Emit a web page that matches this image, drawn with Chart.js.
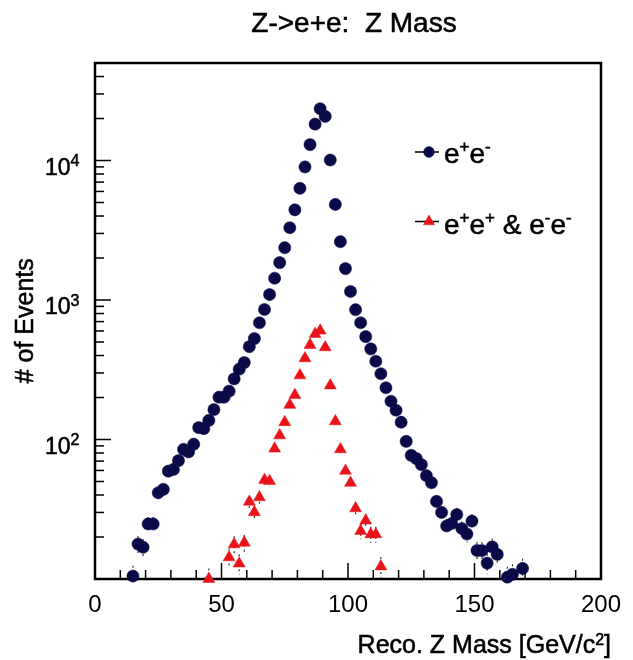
<!DOCTYPE html>
<html>
<head>
<meta charset="utf-8">
<script src="https://cdn.jsdelivr.net/npm/chart.js@4/dist/chart.umd.min.js"></script>
<style>
html,body{margin:0;padding:0;background:#ffffff;}
#wrap{width:633px;height:660px;position:relative;}
canvas{display:block;}
</style>
</head>
<body>
<div id="wrap"><canvas id="c" width="633" height="660"></canvas></div>
<script>
// ---- Data (bin centres in GeV/c^2, event counts) ----
const eeMass = [15,17,19,21,23,25,27,29,31,33,35,37,39,41,43,45,47,49,51,53,55,57,59,61,63,65,67,69,71,73,75,77,79,81,83,85,87,89,91,93,95,97,99,101,103,105,107,109,111,113,115,117,119,121,123,125,127,129,131,133,135,137,139,141,143,145,147,149,151,153,155,157,159,163,165,169];
const eeCounts = [10.5,17.8,16.9,24.8,24.8,41.5,43.9,59.3,61,70.6,85,81.5,92.5,121.6,119.6,137,163.7,201,201,222,272,319,356,463,529,687,855,1094,1432,1854,2371,3296,4430,6322,8990,12990,18230,23500,20700,10080,4840,2618,1679,1151,852,687,546,446,364,296,235,188,162,133,97,77,73,66,55,49,36,30,24,25,29,23,21,26,16,16,13,17,15,10.3,10.8,11.9];

const ssMass = [45,53,55,57,59,61,63,65,67,69,71,73,75,77,79,81,83,85,87,89,91,93,95,97,99,101,103,105,107,109,111,113];
const ssCounts = [10,14.3,17.7,12.9,18.2,35.8,30.1,38.5,51.2,50.3,86,107,133,177,208,288,382,476,570,603,458,244,135,85,59.6,48.9,32.1,22.1,26.2,20.9,20.9,12.3];

const seriesNames = ['e+e-', 'e+e+ & e-e-'];
const xTickValues = [0, 50, 100, 150, 200];
const yTickValues = [100, 1000, 10000];
const yTickExponents = ['2', '3', '4'];
const titleText = 'Z->e+e:  Z Mass';
const xTitleMain = 'Reco. Z Mass [GeV/c';
const xTitleSup = '2';
const xTitleEnd = ']';
const yTitleText = '# of Events';

// ---- Styles ----
const FONT = '"Liberation Sans", Arial, Helvetica, sans-serif';
const NAVY = '#0a0a48';
const RED = '#e8141a';
const TEXT_STROKE = 0.55;

function txt(ctx, s, x, y) {
  ctx.fillText(s, x, y);
  ctx.strokeText(s, x, y);
}
function richWidth(ctx, segs, size, supSize) {
  let w = 0;
  for (const s of segs) {
    ctx.font = (s.sup ? supSize : size) + 'px ' + FONT;
    w += ctx.measureText(s.t).width;
  }
  return w;
}
function drawRich(ctx, segs, x, y, size, supSize, supRaise) {
  let cx = x;
  ctx.textAlign = 'left';
  ctx.textBaseline = 'alphabetic';
  for (const s of segs) {
    ctx.font = (s.sup ? supSize : size) + 'px ' + FONT;
    txt(ctx, s.t, cx, s.sup ? y - supRaise : y);
    cx += ctx.measureText(s.t).width;
  }
}

const legendSegs = [
  [{t:'e'},{t:'+',sup:true},{t:'e'},{t:'-',sup:true}],
  [{t:'e'},{t:'+',sup:true},{t:'e'},{t:'+',sup:true},{t:' & '},{t:'e'},{t:'-',sup:true},{t:'e'},{t:'-',sup:true}]
];

const rootStyle = {
  id: 'rootStyle',
  beforeDatasetsDraw(chart) {
    const ctx = chart.ctx, a = chart.chartArea;
    const xs = chart.scales.x, ys = chart.scales.y;
    ctx.save();
    // statistical error bars drawn under the markers
    ctx.beginPath();
    ctx.rect(a.left, a.top, a.right - a.left, a.bottom - a.top);
    ctx.clip();
    ctx.strokeStyle = '#222';
    ctx.lineWidth = 1.1;
    ctx.setLineDash([2, 3]);
    const sets = [[eeMass, eeCounts], [ssMass, ssCounts]];
    for (const [ms, cs] of sets) {
      for (let i = 0; i < ms.length; i++) {
        const e = Math.sqrt(cs[i]) * 0.6;
        const px = xs.getPixelForValue(ms[i]);
        const p1 = ys.getPixelForValue(cs[i] + e);
        const p2 = ys.getPixelForValue(Math.max(cs[i] - e, 1));
        ctx.beginPath();
        ctx.moveTo(px, p1);
        ctx.lineTo(px, p2);
        ctx.stroke();
      }
    }
    ctx.restore();

    ctx.save();
    ctx.strokeStyle = '#000';
    ctx.lineWidth = 1.5;
    // inward x ticks
    for (let v = xs.min; v <= xs.max; v += 10) {
      const px = xs.getPixelForValue(v);
      const len = (v % 50 === 0) ? 16 : 9;
      ctx.beginPath();
      ctx.moveTo(px, a.bottom);
      ctx.lineTo(px, a.bottom - len);
      ctx.stroke();
    }
    // inward y ticks (log)
    for (let p = 1; p <= 4; p++) {
      for (let k = 1; k <= 9; k++) {
        const v = k * Math.pow(10, p);
        if (v < ys.min || v > ys.max) continue;
        const py = ys.getPixelForValue(v);
        const len = (k === 1) ? 16 : 9;
        ctx.beginPath();
        ctx.moveTo(a.left, py);
        ctx.lineTo(a.left + len, py);
        ctx.stroke();
      }
    }
    // frame
    ctx.lineWidth = 2.5;
    ctx.strokeRect(a.left, a.top, a.right - a.left, a.bottom - a.top);
    ctx.restore();
  },
  afterDraw(chart) {
    const ctx = chart.ctx, a = chart.chartArea;
    const ys = chart.scales.y;
    ctx.save();
    ctx.fillStyle = '#000';
    ctx.strokeStyle = '#000';
    ctx.lineWidth = TEXT_STROKE;
    // title
    ctx.font = '28px ' + FONT;
    ctx.textAlign = 'center';
    ctx.textBaseline = 'alphabetic';
    txt(ctx, titleText, 354, 31.5);

    // y tick labels with superscript exponents
    const xEnd = 79.5;
    for (let i = 0; i < yTickValues.length; i++) {
      const py = ys.getPixelForValue(yTickValues[i]);
      ctx.font = '16px ' + FONT;
      const sw = ctx.measureText(yTickExponents[i]).width;
      ctx.textAlign = 'left';
      txt(ctx, yTickExponents[i], xEnd - sw, py + 5.8);
      ctx.font = '23px ' + FONT;
      ctx.textAlign = 'right';
      txt(ctx, '10', xEnd - sw, py + 14.1);
    }

    // x axis title (right aligned)
    const xSegs = [{t:xTitleMain},{t:xTitleSup,sup:true},{t:xTitleEnd}];
    const w = richWidth(ctx, xSegs, 25, 16);
    drawRich(ctx, xSegs, 611 - w, 653, 25, 16, 8.5);

    // y axis title (rotated)
    ctx.save();
    ctx.translate(33, 320.8);
    ctx.rotate(-Math.PI / 2);
    ctx.font = '25px ' + FONT;
    ctx.textAlign = 'center';
    ctx.textBaseline = 'alphabetic';
    txt(ctx, yTitleText, 0, 0);
    ctx.restore();

    // legend
    const rows = [
      {y: 152, base: 162.5, color: NAVY, style: 'circle', r: 5.4},
      {y: 221.5, base: 233.5, color: RED, style: 'triangle', r: 6.4}
    ];
    for (let i = 0; i < rows.length; i++) {
      const r = rows[i];
      ctx.strokeStyle = '#000';
      ctx.lineWidth = 1.5;
      ctx.setLineDash([]);
      ctx.beginPath();
      ctx.moveTo(415, r.y);
      ctx.lineTo(439, r.y);
      ctx.stroke();
      ctx.fillStyle = r.color;
      ctx.strokeStyle = r.color;
      ctx.lineWidth = 0.5;
      Chart.helpers.drawPoint(ctx, {pointStyle: r.style, radius: r.r, borderWidth: 0.5, rotation: 0}, 429, r.y);
      ctx.fillStyle = '#000';
      ctx.strokeStyle = '#000';
      ctx.lineWidth = TEXT_STROKE;
      drawRich(ctx, legendSegs[i], 444, r.base, 28, 17, 11);
    }
    ctx.restore();
  }
};

new Chart(document.getElementById('c').getContext('2d'), {
  type: 'scatter',
  data: {
    datasets: [
      {
        label: seriesNames[0],
        data: eeMass.map((m, i) => ({x: m, y: eeCounts[i]})),
        pointStyle: 'circle',
        pointRadius: 6.1,
        backgroundColor: NAVY,
        borderColor: NAVY,
        borderWidth: 0.5,
        showLine: false,
        clip: false
      },
      {
        label: seriesNames[1],
        data: ssMass.map((m, i) => ({x: m, y: ssCounts[i]})),
        pointStyle: 'triangle',
        pointRadius: 6.9,
        backgroundColor: RED,
        borderColor: RED,
        borderWidth: 0.5,
        showLine: false,
        clip: false
      }
    ]
  },
  options: {
    responsive: false,
    animation: false,
    devicePixelRatio: 1,
    events: [],
    layout: {padding: {top: 63, right: 22, left: 0, bottom: 0}},
    plugins: {legend: {display: false}, tooltip: {enabled: false}, title: {display: false}},
    scales: {
      x: {
        type: 'linear', position: 'bottom', min: 0, max: 200,
        ticks: {
          stepSize: 50, autoSkip: false, maxRotation: 0, minRotation: 0,
          color: '#000', padding: 12,
          font: {family: FONT, size: 24},
          callback: (v) => xTickValues.includes(v) ? String(v) : ''
        },
        grid: {display: false, drawTicks: false},
        border: {display: false},
        afterFit(s) { s.height = 81; }
      },
      y: {
        type: 'logarithmic', position: 'left', min: 10, max: 50000,
        ticks: {display: false},
        grid: {display: false, drawTicks: false},
        border: {display: false},
        afterFit(s) { s.width = 95; }
      }
    }
  },
  plugins: [rootStyle]
});
</script>
</body>
</html>
